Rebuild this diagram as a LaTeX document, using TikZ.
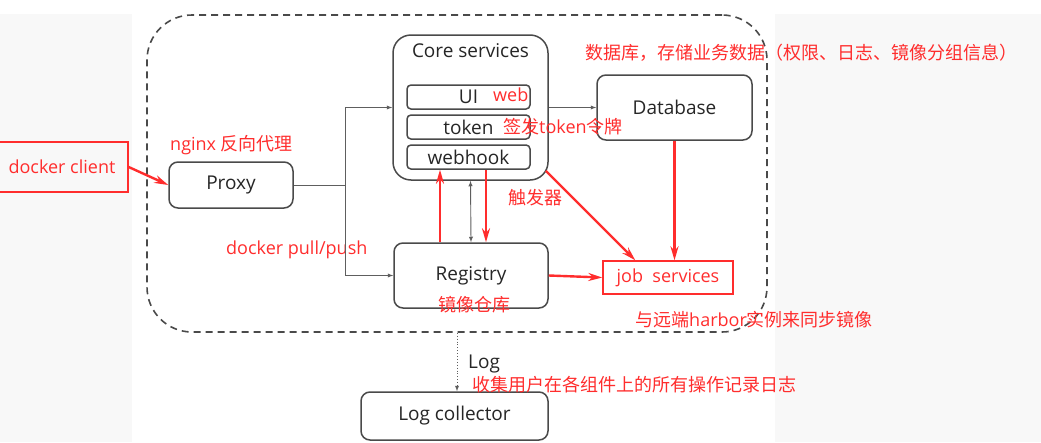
\documentclass[tikz,border=0pt]{standalone}
\usepackage{fontspec}
\setmainfont{Open Sans}
\newfontfamily\cjk{Noto Sans CJK SC}
\usetikzlibrary{positioning,arrows.meta}
\definecolor{HarborGray}{HTML}{4A4A4A}
\definecolor{HarborText}{HTML}{262626}
\definecolor{HarborRed}{HTML}{FF2D2D}
\definecolor{HarborLine}{HTML}{5E5E5E}
\definecolor{HarborBack}{HTML}{F8F8F8}

\begin{document}
\begin{tikzpicture}[x=1pt,y=-1pt,
  box/.style={draw=HarborGray,line width=1.5pt,rounded corners=9pt,fill=white,
              text=HarborText,font=\fontsize{19}{22}\selectfont},
  inbox/.style={box,rounded corners=4pt,minimum width=123pt,minimum height=24pt,inner sep=0pt},
  redbox/.style={draw=HarborRed,line width=1.4pt,text=HarborRed,font=\fontsize{18}{21}\selectfont},
  note/.style={text=HarborRed,font=\fontsize{18}{21}\selectfont,inner sep=0pt},
  arr/.style={-latex,HarborLine,line width=0.9pt},
  redarr/.style={-{Stealth[length=14pt,width=8pt]},HarborRed,line width=2.4pt}]
  \useasboundingbox (0,0) rectangle (1041,442);
  \fill[HarborBack] (0,14) rectangle (132,442);
  \fill[HarborBack] (775,14) rectangle (1041,442);
  % harbor boundary
  \node[draw=HarborGray,dash pattern=on 7pt off 5pt,line width=1.6pt,rounded corners=45pt,
        minimum width=620pt,minimum height=317pt] (harbor) at (457,173.5) {};
  % components
  \node[redbox,minimum width=132pt,minimum height=50pt] (client) at (62,167) {docker client};
  \node[box,minimum width=124pt,minimum height=46pt] (proxy) at (231,185) {Proxy};
  \node[box,rounded corners=18pt,minimum width=155pt,minimum height=145pt] (core) at (470.5,107.5) {};
  \node[anchor=north,inner sep=0pt,text=HarborText,font=\fontsize{19}{22}\selectfont]
       (coretitle) at ([yshift=-9pt]core.north) {Core services};
  \node[inbox] (ui) at (468.5,97) {UI};
  \node[inbox] (token) at (468.5,127) {token};
  \node[inbox] (webhook) at (468.5,157) {webhook};
  \node[box,minimum width=155pt,minimum height=65pt] (db) at (674.5,107.5) {Database};
  \node[box,minimum width=154pt,minimum height=65pt] (registry) at (471,275.5) {Registry};
  \node[redbox,minimum width=130pt,minimum height=33pt] (job) at (668,277.5) {job\ \ services};
  \node[box,minimum width=187pt,minimum height=48pt] (logc) at (454.5,416) {Log collector};
  % notes
  \node[note,anchor=west] (nginxlbl) at (170,145) {nginx {\cjk 反向代理}};
  \node[note,anchor=west] (weblbl) at (493,95) {web};
  \node[note,anchor=west] (tokenlbl) at (503,127) {{\cjk 签发}token{\cjk 令牌}};
  \node[note,anchor=west] (dblbl) at (585,53) {\cjk 数据库，存储业务数据（权限、日志、镜像分组信息）};
  \node[note,anchor=west] (triglbl) at (508,198) {\cjk 触发器};
  \node[note,anchor=west] (pulllbl) at (226,250) {docker pull/push};
  \node[note,anchor=west] (reglbl) at (438,305) {\cjk 镜像仓库};
  \node[note,anchor=west] (synclbl) at (635,320) {{\cjk 与远端}harbor{\cjk 实例来同步镜像}};
  \node[anchor=west,inner sep=0pt,text=HarborText,font=\fontsize{19}{22}\selectfont] (loglbl) at (468,364) {Log};
  \node[note,anchor=west] (collectlbl) at (472,385) {\cjk 收集用户在各组件上的所有操作记录日志};
  % connectors
  \coordinate (split) at (345,185);
  \draw[HarborLine,line width=0.9pt] (proxy.east) -- (split);
  \draw[arr] (split) |- (core.west);
  \draw[arr] (split) |- (registry.west);
  \draw[arr] (core.east) -- (db.west);
  \draw[arr,latex-latex] (core.south) -- (registry.north);
  \draw[redarr] (client.east) -- (proxy.west);
  \draw[redarr] ([xshift=-31pt]registry.north) -- ([xshift=-28.5pt]webhook.south);
  \draw[redarr] ([xshift=17.5pt]webhook.south) -- ([xshift=15pt]registry.north);
  \draw[redarr] ([shift={(-3pt,10pt)}]core.south east) -- ([xshift=33pt]job.north west);
  \draw[redarr] (db.south) -- (db.south |- job.north);
  \draw[redarr] (registry.east) -- (job.west);
  \draw[dotted,-latex,HarborLine,line width=0.9pt] (harbor.south) -- (harbor.south |- logc.north);
\end{tikzpicture}
\end{document}
